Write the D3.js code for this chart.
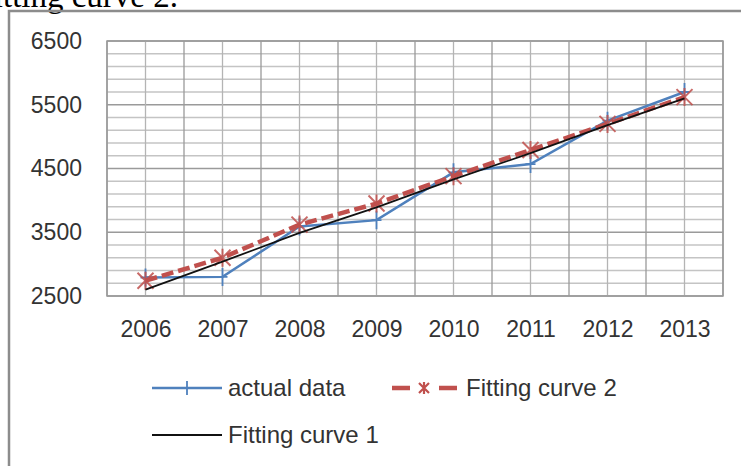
<!DOCTYPE html>
<meta charset="utf-8">
<style>
body { margin: 0; background: #fff; }
svg { display: block; }
.tick text { font-family: "Liberation Sans", sans-serif; fill: #333; }
</style>
<body>
<svg width="741" height="466"></svg>
<script src="https://d3js.org/d3.v7.min.js"></script>
<script>

// chart values
var years = ["2006", "2007", "2008", "2009", "2010", "2011", "2012", "2013"];
var actualData = [2790, 2800, 3590, 3690, 4440, 4570, 5250, 5700];
var fitting2 = [2740, 3100, 3620, 3950, 4380, 4790, 5200, 5620];
var fitting1 = [2600, 3040, 3490, 3890, 4330, 4740, 5180, 5600];
var yTicks = [2500, 3500, 4500, 5500, 6500];

var svg = d3.select("svg"),
    margin = {top: 41, right: 18, bottom: 170, left: 107},
    width = +svg.attr("width") - margin.left - margin.right,
    height = +svg.attr("height") - margin.top - margin.bottom;

// bit of the text above the chart, cut off at the top
svg.append("text")
    .attr("x", 178)
    .attr("y", 7)
    .attr("text-anchor", "end")
    .style("font", "33px 'Liberation Serif', serif")
    .text("Fitting curve 2.");

// chart frame
svg.append("rect")
    .attr("x", 9).attr("y", 11)
    .attr("width", 800).attr("height", 500)
    .attr("fill", "none")
    .attr("stroke", "#8c8c8c")
    .attr("stroke-width", 2.5);

var x = d3.scalePoint().domain(years).range([0, width]).padding(0.5),
    xb = d3.scaleLinear().domain([0, years.length * 2]).range([0, width]),
    y = d3.scaleLinear().domain([2500, 6500]).range([height, 0]);

var g = svg.append("g")
    .attr("transform", "translate(" + margin.left + "," + margin.top + ")");

// minor horizontal grid every 200, major every 1000
g.append("g").selectAll("line")
    .data(d3.range(2500, 6501, 200))
    .enter().append("line")
      .attr("x1", 0).attr("x2", width)
      .attr("y1", function(d) { return y(d); })
      .attr("y2", function(d) { return y(d); })
      .attr("stroke", function(d) { return (d - 2500) % 1000 == 0 ? "#9a9a9a" : "#c4c4c4"; })
      .attr("stroke-width", 1.3);

// vertical grid on every half category
g.append("g").selectAll("line")
    .data(d3.range(0, years.length * 2 + 1))
    .enter().append("line")
      .attr("x1", function(d) { return xb(d); })
      .attr("x2", function(d) { return xb(d); })
      .attr("y1", 0).attr("y2", height)
      .attr("stroke", function(d) { return d % 2 == 0 ? "#9a9a9a" : "#b4b4b4"; })
      .attr("stroke-width", 1.3);

g.append("rect")
    .attr("width", width).attr("height", height)
    .attr("fill", "none").attr("stroke", "#9a9a9a").attr("stroke-width", 1.5);

// axes, labels only
var yAxis = g.append("g")
    .call(d3.axisLeft(y).tickValues(yTicks).tickFormat(d3.format("d")).tickSize(0).tickPadding(25));
yAxis.select(".domain").remove();
yAxis.selectAll("text").style("font-size", "23px");

var xAxis = g.append("g")
    .attr("transform", "translate(0," + height + ")")
    .call(d3.axisBottom(x).tickSize(0).tickPadding(25));
xAxis.select(".domain").remove();
xAxis.selectAll("text").style("font-size", "23px");

var line = d3.line()
    .x(function(d, i) { return x(years[i]); })
    .y(function(d) { return y(d); });

function plusPath(cx, cy, h) {
  return "M" + cx + "," + (cy - h) + "V" + (cy + h) +
         "M" + (cx - 5) + "," + cy + "H" + (cx + 5);
}
function starPath(cx, cy, r) {
  return "M" + (cx - r) + "," + (cy - r) + "L" + (cx + r) + "," + (cy + r) +
         "M" + (cx - r) + "," + (cy + r) + "L" + (cx + r) + "," + (cy - r) +
         "M" + cx + "," + (cy - r - 1) + "V" + (cy + r + 1);
}

// actual data
g.append("path")
    .datum(actualData)
    .attr("fill", "none")
    .attr("stroke", "#4f81bd")
    .attr("stroke-width", 2.5)
    .attr("d", line);
g.append("g").selectAll("path")
    .data(actualData)
    .enter().append("path")
      .attr("d", function(d, i) { return plusPath(x(years[i]), y(d), 9); })
      .attr("stroke", "#4f81bd")
      .attr("stroke-width", 1.8);

// fitting curve 2
g.append("path")
    .datum(fitting2)
    .attr("fill", "none")
    .attr("stroke", "#c0504d")
    .attr("stroke-width", 4.5)
    .attr("stroke-dasharray", "12,5")
    .attr("d", line);
g.append("g").selectAll("path")
    .data(fitting2)
    .enter().append("path")
      .attr("d", function(d, i) { return starPath(x(years[i]), y(d), 8); })
      .attr("stroke", "#c0504d")
      .attr("stroke-width", 2)
      .attr("opacity", 0.85);

// fitting curve 1
g.append("path")
    .datum(fitting1)
    .attr("fill", "none")
    .attr("stroke", "#111")
    .attr("stroke-width", 1.8)
    .attr("d", line);

// legend
var legend = svg.append("g").style("font", "24px 'Liberation Sans', sans-serif").style("fill", "#333");

legend.append("line").attr("x1", 152).attr("x2", 222).attr("y1", 388).attr("y2", 388)
    .attr("stroke", "#4f81bd").attr("stroke-width", 2.5);
legend.append("path").attr("d", plusPath(187, 388, 7)).attr("stroke", "#4f81bd").attr("stroke-width", 1.8);
legend.append("text").attr("x", 228).attr("y", 396).text("actual data");

legend.append("line").attr("x1", 392).attr("x2", 457).attr("y1", 388).attr("y2", 388)
    .attr("stroke", "#c0504d").attr("stroke-width", 4.5).attr("stroke-dasharray", "18,29,18");
legend.append("path").attr("d", starPath(424, 388, 5)).attr("stroke", "#c0504d").attr("stroke-width", 2.2);
legend.append("text").attr("x", 466).attr("y", 396).text("Fitting curve 2");

legend.append("line").attr("x1", 152).attr("x2", 222).attr("y1", 435).attr("y2", 435)
    .attr("stroke", "#111").attr("stroke-width", 1.8);
legend.append("text").attr("x", 228).attr("y", 443).text("Fitting curve 1");

</script>
</body>
